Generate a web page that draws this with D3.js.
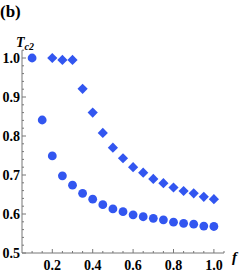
<!DOCTYPE html>
<html>
<head>
<meta charset="utf-8">
<script src="https://cdn.jsdelivr.net/npm/d3@7"></script>
<style>
  body { margin: 0; background: #fff; }
  text { font-family: "Liberation Serif", "DejaVu Serif", serif; font-weight: bold; }
</style>
</head>
<body>
<svg id="chart" width="244" height="273"></svg>
<script>
// f values and Tc2 for both series
const fCircles = [0.10, 0.15, 0.20, 0.25, 0.30, 0.35, 0.40, 0.45, 0.50, 0.55, 0.60, 0.65, 0.70, 0.75, 0.80, 0.85, 0.90, 0.95, 1.00];
const tcCircles = [1.000, 0.841, 0.749, 0.698, 0.674, 0.653, 0.638, 0.624, 0.613, 0.606, 0.598, 0.593, 0.589, 0.585, 0.579, 0.576, 0.574, 0.569, 0.568];
const fDiamonds = [0.20, 0.25, 0.30, 0.35, 0.40, 0.45, 0.50, 0.55, 0.60, 0.65, 0.70, 0.75, 0.80, 0.85, 0.90, 0.95, 1.00];
const tcDiamonds = [1.000, 0.995, 0.995, 0.921, 0.860, 0.808, 0.770, 0.743, 0.720, 0.706, 0.690, 0.679, 0.668, 0.659, 0.653, 0.644, 0.638];
const xTicks = [0.2, 0.4, 0.6, 0.8, 1.0];
const yTicks = [0.5, 0.6, 0.7, 0.8, 0.9, 1.0];

const blue = '#3256f0',
  axisColor = '#777';

const svg = d3.select('#chart');

const x = d3.scaleLinear([0.05, 1.05], [22, 224]),
  y = d3.scaleLinear([0.5, 1.0], [253, 58]);

// axes lines
svg.append('line')
  .attr('x1', x(0.05)).attr('x2', x(1.05))
  .attr('y1', y(0.5)).attr('y2', y(0.5))
  .attr('stroke', axisColor).attr('stroke-width', 1);
svg.append('line')
  .attr('x1', x(0.05)).attr('x2', x(0.05))
  .attr('y1', y(0.5)).attr('y2', y(1.02))
  .attr('stroke', axisColor).attr('stroke-width', 1);

// x ticks (inward), minor every 0.05
const xMinor = d3.range(0.1, 1.051, 0.05).filter(v => !xTicks.some(t => Math.abs(t - v) < 1e-6));
svg.selectAll('.xminor').data(xMinor).enter().append('line')
  .attr('x1', d => x(d)).attr('x2', d => x(d))
  .attr('y1', y(0.5)).attr('y2', y(0.5) - 2)
  .attr('stroke', axisColor);
svg.selectAll('.xmajor').data(xTicks).enter().append('line')
  .attr('x1', d => x(d)).attr('x2', d => x(d))
  .attr('y1', y(0.5)).attr('y2', y(0.5) - 4)
  .attr('stroke', axisColor);
svg.selectAll('.xlab').data(xTicks).enter().append('text')
  .attr('x', d => x(d)).attr('y', 270)
  .attr('text-anchor', 'middle')
  .attr('font-size', 14)
  .text(d => d3.format('.1f')(d));

// y ticks (inward), minor every 0.02
const yMinor = d3.range(0.52, 1.021, 0.02).filter(v => !yTicks.some(t => Math.abs(t - v) < 1e-6));
svg.selectAll('.yminor').data(yMinor).enter().append('line')
  .attr('x1', x(0.05)).attr('x2', x(0.05) + 2)
  .attr('y1', d => y(d)).attr('y2', d => y(d))
  .attr('stroke', axisColor);
svg.selectAll('.ymajor').data(yTicks).enter().append('line')
  .attr('x1', x(0.05)).attr('x2', x(0.05) + 4)
  .attr('y1', d => y(d)).attr('y2', d => y(d))
  .attr('stroke', axisColor);
svg.selectAll('.ylab').data(yTicks).enter().append('text')
  .attr('x', 20).attr('y', d => y(d) + 5)
  .attr('text-anchor', 'end')
  .attr('font-size', 14)
  .text(d => d3.format('.1f')(d));

// labels
svg.append('text').attr('x', 0).attr('y', 17).attr('font-size', 17).text('(b)');
const tl = svg.append('text').attr('x', 16).attr('y', 47).attr('font-size', 14).attr('font-style', 'italic');
tl.append('tspan').text('T');
tl.append('tspan').attr('font-size', 10).attr('dy', 3).text('c2');
svg.append('text').attr('x', 232).attr('y', 262).attr('font-size', 15).attr('font-style', 'italic').text('f');

// data
svg.selectAll('circle').data(fCircles).enter().append('circle')
  .attr('cx', d => x(d))
  .attr('cy', (d, i) => y(tcCircles[i]))
  .attr('r', 4.4)
  .attr('fill', blue);

svg.selectAll('.dia').data(fDiamonds).enter().append('path')
  .attr('transform', (d, i) => 'translate(' + x(d) + ',' + y(tcDiamonds[i]) + ') rotate(45)')
  .attr('d', d3.symbol().type(d3.symbolSquare).size(52)())
  .attr('fill', blue);
</script>
</body>
</html>
